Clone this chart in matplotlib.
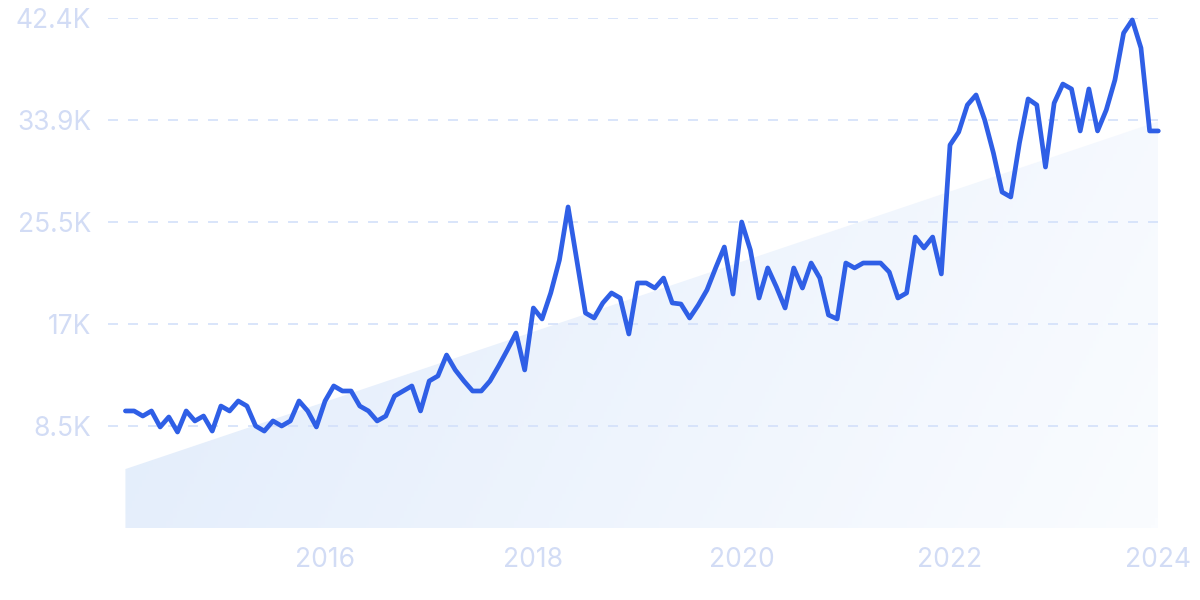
import numpy as np
import matplotlib.pyplot as plt
from matplotlib.colors import LinearSegmentedColormap
from matplotlib.patches import Polygon

plt.rcParams['font.family'] = ['Inter', 'DejaVu Sans']

# monthly values in thousands, Feb 2014 .. Jan 2024
values = [
    9.73, 9.73, 9.31, 9.73, 8.40, 9.23, 7.98, 9.73, 8.90, 9.31, 8.06,
    10.14, 9.73, 10.56, 10.14, 8.48, 8.06, 8.90, 8.48, 8.90, 10.56, 9.73,
    8.40, 10.56, 11.81, 11.39, 11.39, 10.14, 9.73, 8.90, 9.31, 10.97, 11.39,
    11.81, 9.73, 12.22, 12.64, 14.38, 13.14, 12.22, 11.39, 11.39, 12.22, 13.47,
    14.80, 16.21, 13.14, 18.29, 17.38, 19.54, 22.28, 26.69, 22.28, 17.88, 17.46,
    18.71, 19.54, 19.12, 16.13, 20.37, 20.37, 19.95, 20.78, 18.71, 18.62, 17.46,
    18.54, 19.79, 21.62, 23.36, 19.45, 25.44, 23.11, 19.12, 21.62, 20.04, 18.29,
    21.62, 19.95, 22.03, 20.78, 17.71, 17.38, 22.03, 21.62, 22.03, 22.03, 22.03,
    21.28, 19.12, 19.54, 24.19, 23.28, 24.19, 21.12, 31.84, 32.92, 35.17, 36.00,
    33.92, 31.18, 27.93, 27.52, 32.01, 35.67, 35.17, 30.01, 35.33, 36.91, 36.50,
    33.01, 36.50, 33.01, 34.75, 37.25, 41.15, 42.24, 39.91, 33.01, 33.01,
]
start_year = 2014
start_month = 2
trend_ends = [4.9, 33.8]

y_ticks = [8.48, 16.96, 25.44, 33.92, 42.4]
y_labels = ['8.5K', '17K', '25.5K', '33.9K', '42.4K']
x_ticks = [2016, 2018, 2020, 2022, 2024]

x = np.array([start_year + (start_month - 1 + i) / 12 for i in range(len(values))])

fig = plt.figure(figsize=(12, 6), dpi=100)
ax = fig.add_axes([0.09, 0.12, 0.877, 0.85])
ax.set_xlim(2013.916, 2024.02)
ax.set_ylim(0, 42.4)

# gradient fill under the trend line (bluer top-left, fading to bottom-right)
cmap = LinearSegmentedColormap.from_list('fade', ['#e0ebfb', '#fafcff'])
GX, GY = np.meshgrid(np.linspace(0, 1, 300), np.linspace(0, 1, 150))
grad = np.clip(0.8 * GX + 0.2 * GY, 0, 1)
img = ax.imshow(grad, cmap=cmap, extent=[x[0], x[-1], 0, 42.4], origin='upper',
                aspect='auto', zorder=1)
poly = Polygon([(x[0], 0), (x[0], trend_ends[0]), (x[-1], trend_ends[1]), (x[-1], 0)],
               closed=True, transform=ax.transData, facecolor='none', edgecolor='none')
ax.add_patch(poly)
img.set_clip_path(poly)

for t in y_ticks:
    ax.axhline(t, color='#d3e0fa', lw=1.2, ls=(0, (6, 6)), zorder=2)

ax.plot(x, values, color='#2f5fe6', lw=3.4, solid_joinstyle='round',
        solid_capstyle='round', zorder=3, clip_on=False)

ax.set_yticks(y_ticks)
ax.set_yticklabels(y_labels)
ax.set_xticks(x_ticks)
ax.set_xticklabels([str(v) for v in x_ticks])
ax.tick_params(axis='both', length=0, labelsize=19, labelcolor='#d2dcf5')
ax.tick_params(axis='y', pad=12)
ax.tick_params(axis='x', pad=14)
for s in ax.spines.values():
    s.set_visible(False)

fig.savefig('out.png', dpi=100)
